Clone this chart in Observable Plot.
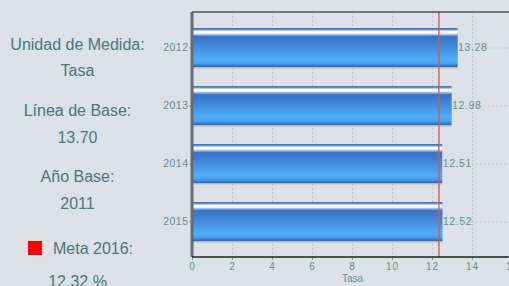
<!DOCTYPE html>
<html>
<head>
<meta charset="utf-8">
<script src="https://cdn.jsdelivr.net/npm/d3@7"></script>
<script src="https://cdn.jsdelivr.net/npm/@observablehq/plot@0.6"></script>
<style>
  html, body { margin: 0; padding: 0; }
  body { width: 509px; height: 286px; overflow: hidden; background: #dbe1e4; position: relative; font-family: "Liberation Sans", Arial, sans-serif; }
  #side { position: absolute; left: 0; top: 0; width: 155px; height: 286px; color: #4a7680; font-size: 16px; }
  #side div { position: absolute; left: 0; width: 155px; text-align: center; white-space: nowrap; }
  #chart { position: absolute; left: 0; top: 0; width: 520px; }
  #chart svg { max-width: none !important; }
  #chart svg g[aria-label="y-axis tick label"] text { letter-spacing: 0.5px; font-size: 10.5px; }
  #chart svg g[aria-label="x-axis tick label"] text { letter-spacing: 1px; font-size: 10px; }
  #chart svg g.vals text { letter-spacing: 0.6px; }
  .sq { display: inline-block; width: 14px; height: 14px; background: #ff0000; vertical-align: -1px; margin-right: 11px; }
</style>
</head>
<body>
<div id="side"></div>
<div id="chart"></div>
<script>
const years = ["2012", "2013", "2014", "2015"];
const values = [13.28, 12.98, 12.51, 12.52];
const meta = 12.32;
const xTicks = [0, 2, 4, 6, 8, 10, 12, 14, 16];
const sideLabels = ["Unidad de Medida:", "Tasa", "Línea de Base:", "13.70", "Año Base:", "2011", "Meta 2016:", "12.32 %"];
const axisLabel = "Tasa";

// side panel
const side = document.getElementById("side");
const sideY = [36, 62, 102, 129, 168, 195, 240, 273];
sideLabels.forEach((t, i) => {
  const d = document.createElement("div");
  d.style.top = sideY[i] + "px";
  if (i === 6) {
    d.innerHTML = '<span class="sq"></span>' + t;
    d.style.left = "3px";
  } else d.textContent = t;
  side.appendChild(d);
});

const data = years.map((y, i) => ({year: y, value: values[i]}));
const tickColor = "#5e8e96";

const plot = Plot.plot({
  width: 520,
  height: 286,
  marginLeft: 192,
  marginRight: 8,
  marginTop: 12,
  marginBottom: 29,
  style: {background: "transparent", fontFamily: "Liberation Sans, Arial, sans-serif", maxWidth: "none"},
  x: {domain: [0, 16], ticks: xTicks, label: null},
  y: {domain: years, paddingInner: 0.32, paddingOuter: 0.25, label: null},
  marks: [
    Plot.gridX(xTicks.filter(d => d > 0), {stroke: "#c4c9cc", strokeOpacity: 1, strokeDasharray: "2,2"}),
    Plot.gridY(years, {stroke: "#c4c9cc", strokeOpacity: 1, strokeDasharray: "2,2"}),
    // shadow line under bars
    Plot.barX(data, {x: "value", y: "year", fill: "#b3babf", dy: 1.5}),
    Plot.barX(data, {x: "value", y: "year", fill: "url(#barGrad)"}),
    Plot.text(data, {x: "value", y: "year", text: d => d.value.toFixed(2), textAnchor: "start", dx: 0, fill: tickColor, fontSize: 10.5, className: "vals"}),
    Plot.ruleX([meta], {stroke: "#c0605e", strokeWidth: 1.5, strokeOpacity: 0.9}),
    Plot.axisX({ticks: xTicks, tickSize: 3, tickPadding: 2, fontSize: 10, color: tickColor, stroke: "#999"}),
    Plot.axisY({tickSize: 3, tickPadding: 1, fontSize: 10.5, color: tickColor, stroke: "#999"}),
    Plot.text([axisLabel], {frameAnchor: "bottom", x: 8, dy: 21, lineAnchor: "middle", fill: tickColor, fontSize: 10})
  ]
});

// gradient defs
const ns = "http://www.w3.org/2000/svg";
const defs = document.createElementNS(ns, "defs");
defs.innerHTML = `<linearGradient id="barGrad" x1="0" y1="0" x2="0" y2="1">
  <stop offset="0" stop-color="#3a6cbe"/>
  <stop offset="0.05" stop-color="#6e98d8"/>
  <stop offset="0.08" stop-color="#ffffff"/>
  <stop offset="0.13" stop-color="#ffffff"/>
  <stop offset="0.17" stop-color="#9cbde8"/>
  <stop offset="0.22" stop-color="#3a72c4"/>
  <stop offset="0.45" stop-color="#4088d8"/>
  <stop offset="0.8" stop-color="#4fadfc"/>
  <stop offset="0.9" stop-color="#4aa2f2"/>
  <stop offset="0.96" stop-color="#3a7ccc"/>
  <stop offset="1" stop-color="#2f64b4"/>
</linearGradient>`;
plot.insertBefore(defs, plot.firstChild);
plot.style.maxWidth = "none";

// axis frame lines drawn via scales
const xs = plot.scale("x");
const x0 = xs.apply(0);
const y0 = 12, y1 = 286 - 29;
const frame = document.createElementNS(ns, "g");
frame.innerHTML = `<line x1="${x0}" x2="${x0}" y1="${y0}" y2="${y1}" stroke="#6b6b6b" stroke-width="3"/>
<line x1="${x0}" x2="520" y1="${y1}" y2="${y1}" stroke="#222" stroke-width="1.5"/>
<line x1="${x0}" x2="520" y1="${y0}" y2="${y0}" stroke="#555" stroke-width="1.5"/>`;
plot.appendChild(frame);

document.getElementById("chart").appendChild(plot);
</script>
</body>
</html>
